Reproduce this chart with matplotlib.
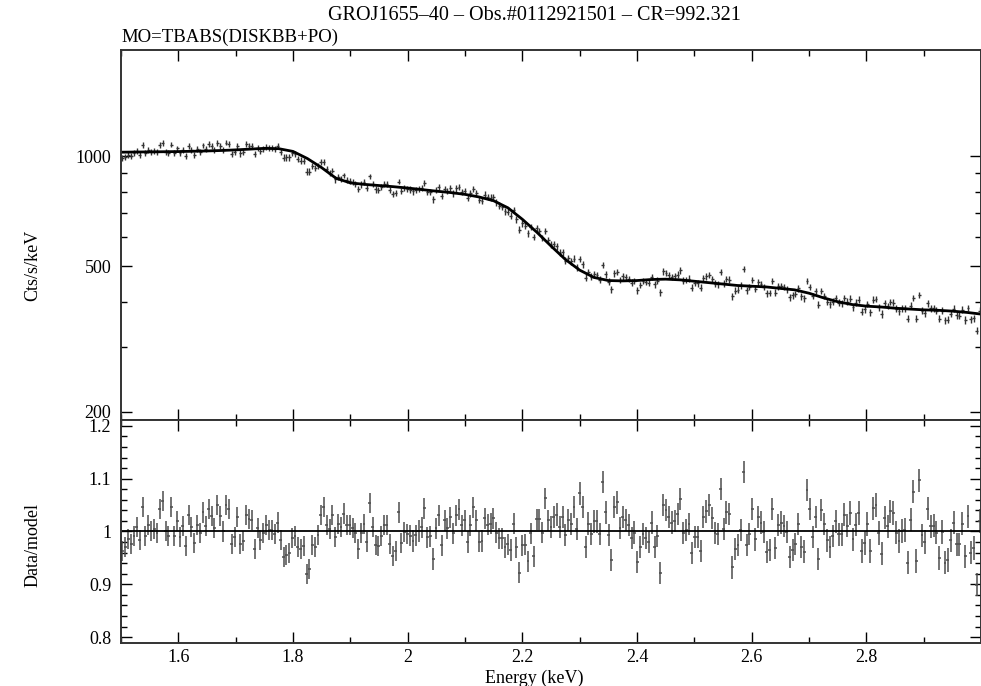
import numpy as np
import matplotlib
matplotlib.use("Agg")
import matplotlib.pyplot as plt
from matplotlib.ticker import FixedLocator, MultipleLocator, FuncFormatter, NullFormatter

# ---------------- data ----------------
title = "GROJ1655\u201340 \u2013 Obs.#0112921501 \u2013 CR=992.321"
model_name = "MO=TBABS(DISKBB+PO)"

e_min, e_max = 1.5, 3.0

# model curve (Cts/s/keV) read at knots every 0.025 keV
model_energy = [1.500, 1.525, 1.550, 1.575, 1.600, 1.625, 1.650, 1.675, 1.700, 1.725,
                1.750, 1.775, 1.800, 1.825, 1.850, 1.875, 1.900, 1.925, 1.950, 1.975,
                2.000, 2.025, 2.050, 2.075, 2.100, 2.125, 2.150, 2.175, 2.200, 2.225,
                2.250, 2.275, 2.300, 2.325, 2.350, 2.375, 2.400, 2.425, 2.450, 2.475,
                2.500, 2.525, 2.550, 2.575, 2.600, 2.625, 2.650, 2.675, 2.700, 2.725,
                2.750, 2.775, 2.800, 2.825, 2.850, 2.875, 2.900, 2.925, 2.950, 2.975, 3.000]
model_rate = [1025, 1026, 1027, 1028, 1029, 1031, 1033, 1036, 1040, 1045,
              1050, 1048, 1030, 985, 930, 870, 845, 837, 831, 825,
              818, 810, 802, 795, 786, 773, 755, 722, 672, 620,
              568, 522, 488, 466, 457, 456, 457, 460, 461, 459,
              455, 451, 447, 443, 441, 439, 435, 431, 422, 410,
              400, 393, 389, 387, 384, 382, 380, 379, 377, 374, 370]

# data / model ratio, one value per energy bin (left to right)
ratio_a = [0.963, 0.970, 0.985, 0.976, 0.992, 1.009, 0.984, 1.047, 0.992, 1.012, 1.001,
           1.004, 0.998, 1.042, 1.058, 1.001, 0.992, 1.046, 0.992, 1.020, 0.989,
           1.011, 0.973, 1.032, 1.008, 0.978, 1.012, 0.997, 1.036, 1.011, 1.042,
           1.030, 1.006, 1.050, 1.030, 1.000, 1.050, 1.042, 0.976, 0.989, 1.027,
           0.976, 0.982, 1.032, 1.023, 1.022, 0.967, 1.006, 0.984, 0.997, 1.012,
           1.003, 1.003, 0.995, 1.017, 0.984, 0.951, 0.955, 0.959, 0.987, 0.991,
           0.970, 0.967, 0.973, 0.919, 0.929, 0.974, 0.970, 0.993, 1.032, 1.046,
           1.012, 1.004]
ratio_b = [1.032, 0.989, 1.014, 1.008, 1.034, 1.012, 1.012, 1.006, 0.998, 0.967,
           0.997, 1.014, 0.980, 1.054, 1.008, 0.974, 0.973, 0.992, 1.012, 1.013,
           0.976, 0.954, 0.963, 1.036, 0.979, 0.999, 0.995, 0.992, 0.982, 0.993,
           1.001, 1.008, 1.044, 0.989, 0.991, 0.948, 1.006, 1.031, 0.974, 1.021,
           1.006, 1.027, 0.997, 1.031, 1.042, 1.012, 1.021, 0.980, 1.012, 1.046,
           1.021, 0.981, 0.982, 1.025, 1.013, 1.015, 1.025, 0.998, 0.987, 0.987,
           0.970, 0.976, 0.965, 1.015, 0.970, 0.922, 0.974, 0.975, 0.944, 0.997,
           0.953, 1.023]
ratio_c = [1.023, 0.998, 1.063, 1.021, 1.009, 1.028, 1.032, 1.008, 1.028, 0.993,
           1.022, 1.014, 1.047, 1.004, 1.072, 1.047, 0.971, 1.015, 0.995, 1.019,
           1.019, 0.995, 1.094, 1.036, 0.993, 0.946, 1.047, 1.055, 1.006, 1.028,
           1.022, 1.012, 0.987, 0.998, 0.942, 0.971, 0.995, 0.987, 0.980, 1.017,
           0.970, 0.991, 0.922, 1.050, 1.040, 1.028, 1.017, 1.020, 1.033, 1.061,
           0.997, 1.003, 1.014, 0.959, 0.989, 0.990, 0.963, 1.027, 1.038, 1.050,
           1.025, 0.997, 0.995, 1.080, 1.004, 1.036, 1.033, 0.932, 0.967, 0.974,
           1.003, 1.112, 0.974, 0.995]
ratio_d = [1.042, 0.985, 1.027, 1.017, 0.999, 0.961, 0.965, 1.043, 0.969, 1.012,
           1.017, 1.011, 0.999, 0.952, 0.965, 0.976, 1.014, 0.971, 0.962, 1.079,
           1.042, 0.990, 1.027, 0.948, 1.041, 1.014, 0.983, 0.971, 0.992, 1.019,
           0.995, 0.995, 1.032, 1.011, 1.035, 0.985, 1.013, 1.035, 0.963, 0.978,
           1.014, 0.963, 1.044, 1.050, 0.997, 0.958, 1.026, 1.010, 1.038, 1.035,
           0.998, 0.982, 1.001, 1.003, 0.941, 1.022, 1.075, 0.944, 1.097, 0.993,
           0.980, 1.043, 1.010, 1.011, 0.998, 0.950, 0.999, 0.941, 0.946, 0.983,
           1.017, 0.976, 0.976, 1.015, 0.953, 1.029, 0.960, 0.969, 0.899, 1.020]

# 1-sigma error of the ratio, per 0.25 keV segment
ratio_err_seg = [0.019, 0.019, 0.020, 0.021, 0.021, 0.022]

# ---------------- derived ----------------
ratio = np.array(ratio_a + ratio_b + ratio_c + ratio_d)
nbin = len(ratio)
edges = np.linspace(e_min, e_max, nbin + 1)
energy = 0.5 * (edges[1:] + edges[:-1])
half_w = 0.5 * (edges[1] - edges[0])
seg = np.minimum(((energy - e_min) // 0.25).astype(int), len(ratio_err_seg) - 1)
ratio_err = np.array(ratio_err_seg)[seg]
model_at_bins = np.interp(energy, model_energy, model_rate)
rate = ratio * model_at_bins
rate_err = ratio_err * model_at_bins

# ---------------- plot ----------------
plt.rcParams['font.family'] = ['Liberation Serif', 'DejaVu Serif']
W, H = 981, 686
fig = plt.figure(figsize=(W / 100, H / 100), dpi=100)
left, right = 121, 981
ax1 = fig.add_axes([left / W, (H - 420) / H, (right - left) / W, (420 - 50) / H])
ax2 = fig.add_axes([left / W, (H - 643) / H, (right - left) / W, (643 - 420) / H], sharex=ax1)

ax1.errorbar(energy, rate, xerr=half_w, yerr=rate_err, fmt='none', ecolor='0.2',
             elinewidth=1.0, capsize=0)
ax1.plot(model_energy, model_rate, color='black', lw=2.0)
ax1.set_yscale('log')
ax1.set_ylim(190, 1950)
ax1.set_xlim(e_min, e_max)
ax1.yaxis.set_major_locator(FixedLocator([200, 500, 1000]))
ax1.yaxis.set_major_formatter(FuncFormatter(lambda v, p: f"{v:g}"))
ax1.yaxis.set_minor_locator(FixedLocator([300, 400, 600, 700, 800, 900]))
ax1.yaxis.set_minor_formatter(NullFormatter())
ax1.tick_params(labelbottom=False)

ax2.errorbar(energy, ratio, xerr=half_w, yerr=ratio_err, fmt='none', ecolor='0.3',
             elinewidth=1.1, capsize=0)
ax2.axhline(1.0, color='black', lw=1.3)
ax2.set_ylim(0.789, 1.211)
ax2.yaxis.set_major_locator(MultipleLocator(0.1))
ax2.yaxis.set_minor_locator(MultipleLocator(0.02))
ax2.yaxis.set_major_formatter(FuncFormatter(lambda v, p: f"{v:.1f}".rstrip('0').rstrip('.')))
ax2.xaxis.set_major_locator(MultipleLocator(0.2))
ax2.xaxis.set_minor_locator(MultipleLocator(0.1))


def xfmt(v, p):
    if v > 2.95 or v < 1.55:
        return ""
    return f"{v:.1f}".rstrip('0').rstrip('.')


ax2.xaxis.set_major_formatter(FuncFormatter(xfmt))
ax2.set_xlim(e_min, e_max)

for ax in (ax1, ax2):
    ax.tick_params(which='both', direction='in', top=True, right=True,
                   labelsize=13, colors='black', width=1.0)
    ax.tick_params(which='major', length=8, pad=7)
    ax.tick_params(which='minor', length=4)
    for s in ax.spines.values():
        s.set_linewidth(1.4)
        s.set_color('0.2')
ax2.tick_params(axis='x', which='major', pad=4)

fig.text(0.5445, 1 - 15 / H, title, ha='center', va='center', fontsize=14.5)
fig.text(left / W, 1 - 37 / H, model_name, ha='left', va='center', fontsize=13.5)
fig.text(33 / W, 1 - 265 / H, "Cts/s/keV", rotation=90, ha='center', va='center', fontsize=13)
fig.text(33 / W, 1 - 545 / H, "Data/model", rotation=90, ha='center', va='center', fontsize=13)
fig.text(0.5445, 1 - 678 / H, "Energy (keV)", ha='center', va='center', fontsize=13)

fig.savefig("out.png", dpi=100)
